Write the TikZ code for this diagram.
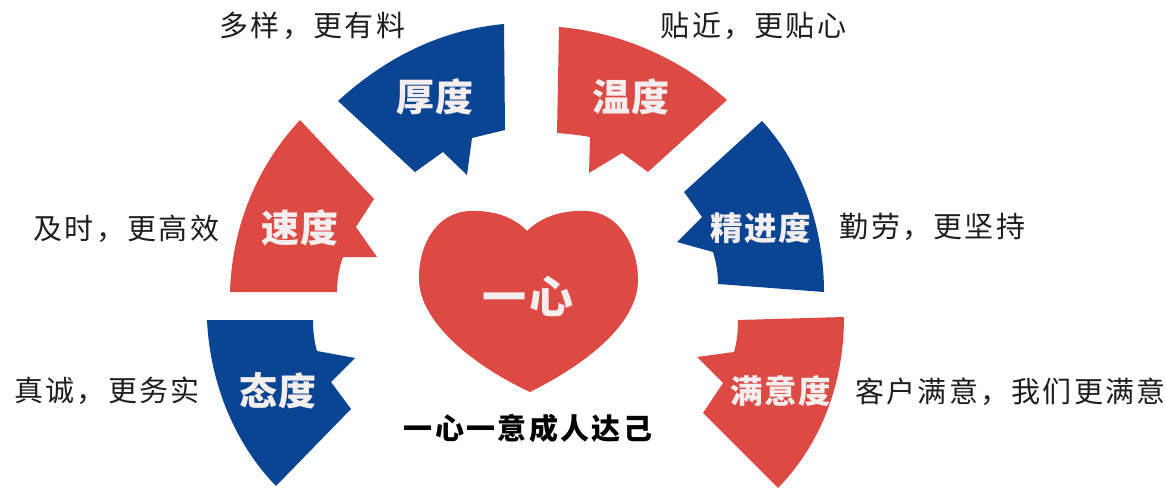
\documentclass[tikz,border=0pt]{standalone}
\usepackage{fontspec}
\newfontfamily\cjklab[LetterSpace=8]{Noto Sans CJK SC}
\newfontfamily\cjkttl[LetterSpace=5]{Noto Sans CJK SC}
\newfontfamily\cjkhrt[LetterSpace=9]{Noto Sans CJK SC}
\newfontfamily\cjkcap[LetterSpace=8]{Noto Sans CJK SC}
\definecolor{myred}{HTML}{DD4A43}
\definecolor{myblue}{HTML}{0A4593}
\definecolor{soft}{HTML}{F5EEEE}
\definecolor{ink}{HTML}{1E1E1E}
\tikzset{
  x=1pt,y=-1pt,
  seg/.style={line join=miter,draw=none},
  ttl/.style={text=soft,inner sep=0pt,font=\cjkttl\bfseries\fontsize{38}{39}\selectfont},
  ttls/.style={text=soft,inner sep=0pt,font=\cjkttl\bfseries\fontsize{32.5}{34}\selectfont},
  lab/.style={text=ink,inner sep=0pt,font=\cjklab\fontsize{29}{30}\selectfont},
}
\begin{document}
\begin{tikzpicture}
\useasboundingbox (0,0) rectangle (1166,489);
% 厚度
\fill[myblue,seg] (504,24) .. controls (440,30) and (385,58) .. (338,101)
  -- (415,172) -- (443,152) -- (467,175) -- (472,138) -- (505,130) -- cycle;
% 速度
\fill[myred,seg] (300,120) .. controls (258,165) and (232,225) .. (230,292)
  -- (337,292) .. controls (337,280) and (339,268) .. (343,257)
  -- (377,257) -- (356,227) -- (374,199) -- cycle;
% 温度
\fill[myred,seg] (559,27) .. controls (620,32) and (680,58) .. (727,100)
  -- (648,172) -- (622,153) -- (589,173) -- (590,137)
  .. controls (580,135) and (568,134) .. (557,133) -- cycle;
% 精进度
\fill[myblue,seg] (762,121) .. controls (803,165) and (824,230) .. (824,292)
  -- (718,284) .. controls (718,272) and (716,262) .. (713,252)
  -- (677,242) -- (702,217) -- (684,192) -- cycle;
% 态度
\fill[myblue,seg] (207,320) -- (313,320) .. controls (313,330) and (314,341) .. (317,351)
  -- (355,358) -- (331,382) -- (351,409) -- (276,486)
  .. controls (236,445) and (210,385) .. (207,320) -- cycle;
% 满意度
\fill[myred,seg] (738,320) -- (844,317) .. controls (844,385) and (820,445) .. (778,488)
  -- (703,413) -- (723,383) -- (697,357) -- (734,352)
  .. controls (737,342) and (738,331) .. (738,320) -- cycle;
% 一心 heart
\fill[myred,seg] (527,231) .. controls (515,218) and (495,210) .. (470,211)
  .. controls (436,212) and (418,246) .. (419,280)
  .. controls (420,322) and (472,365) .. (530,392)
  .. controls (590,362) and (638,322) .. (638,280)
  .. controls (638,246) and (618,211) .. (585,211)
  .. controls (560,210) and (540,218) .. (527,231) -- cycle;
% labels
\node[ttl] (t1) at (435,97) {厚度};
\node[ttl] (t2) at (631,97) {温度};
\node[ttl] (t3) at (300,228) {速度};
\node[ttls] (t4) at (761,228) {精进度};
\node[ttl] (t5) at (278,391) {态度};
\node[ttls] (t6) at (780.5,391) {满意度};
\node[text=soft,inner sep=0pt,font=\cjkhrt\bfseries\fontsize{44}{45}\selectfont] (t7) at (528,296) {一心};
\node[lab] (l1) at (312.5,26) {多样，更有料};
\node[lab] (l2) at (753.5,26) {贴近，更贴心};
\node[lab] (l3) at (126.5,229) {及时，更高效};
\node[lab] (l4) at (932.5,227) {勤劳，更坚持};
\node[lab] (l5) at (107,391) {真诚，更务实};
\node[lab] (l6) at (1010.5,392) {客户满意，我们更满意};
\node[text=black,inner sep=0pt,font=\cjkcap\bfseries\fontsize{29}{30}\selectfont] (cap) at (528,428) {一心一意成人达己};
\end{tikzpicture}
\end{document}
